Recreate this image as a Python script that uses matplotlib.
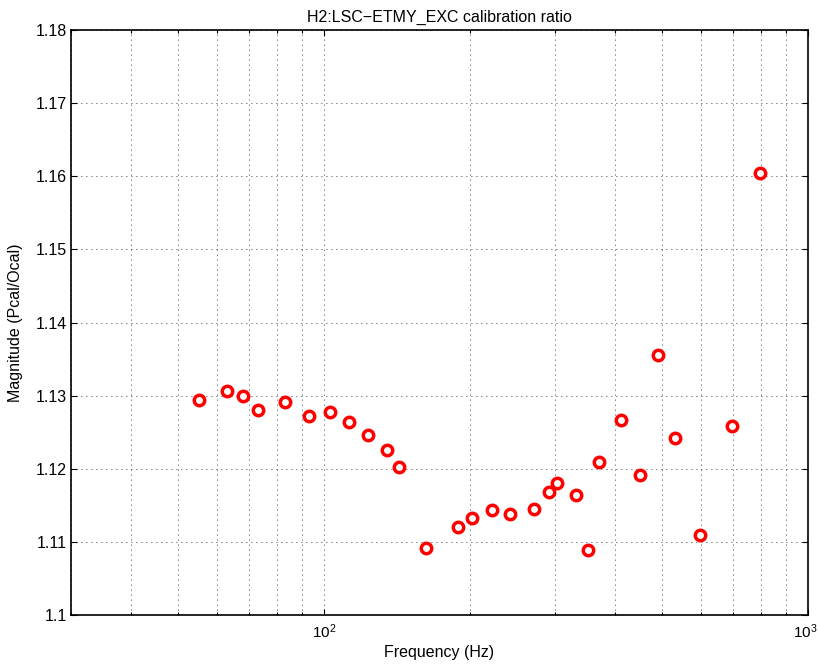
import matplotlib
matplotlib.use("Agg")
import matplotlib.pyplot as plt
import matplotlib.transforms as mtransforms
from matplotlib.ticker import LogLocator, NullFormatter, FixedLocator

plt.rcParams['font.family'] = ['Liberation Sans', 'DejaVu Sans']
plt.rcParams['mathtext.fontset'] = 'custom'
plt.rcParams['mathtext.rm'] = 'Liberation Sans'

freq = [55.1, 63.1, 68.0, 73.0, 83.0, 93.0, 103.0, 112.8, 123.0, 134.7, 142.6,
        162.5, 188.7, 202.6, 222.3, 242.2, 271.9, 292.0, 302.3, 331.9, 351.3,
        370.7, 411.0, 450.4, 489.0, 530.0, 599.0, 698.0, 797.5]
ratio = [1.1294, 1.1306, 1.1299, 1.1281, 1.1291, 1.1272, 1.1278, 1.1264, 1.1246,
         1.1225, 1.1202, 1.1092, 1.1120, 1.1132, 1.1143, 1.1138, 1.1145, 1.1168,
         1.1180, 1.1164, 1.1089, 1.1209, 1.1267, 1.1192, 1.1356, 1.1242, 1.1109,
         1.1258, 1.1605]
yticks = [1.10, 1.11, 1.12, 1.13, 1.14, 1.15, 1.16, 1.17, 1.18]
ytick_labels = ['1.1', '1.11', '1.12', '1.13', '1.14', '1.15', '1.16', '1.17', '1.18']

fig = plt.figure(figsize=(8.19, 6.68), dpi=100)
ax = fig.add_axes([71/819, 1 - 615/668, (808 - 71)/819, (615 - 30)/668])

ax.plot(freq, ratio, linestyle='none', marker='o', markersize=7.5,
        markerfacecolor='white', markeredgecolor='red', markeredgewidth=2.5,
        zorder=3)

ax.set_xscale('log')
ax.set_xlim(30, 1000)
ax.set_ylim(1.10, 1.18)
ax.set_yticks(yticks)
ax.set_yticklabels(ytick_labels)
ax.xaxis.set_major_locator(FixedLocator([100, 1000]))
ax.xaxis.set_minor_locator(LogLocator(base=10, subs=range(2, 10), numticks=20))
ax.xaxis.set_minor_formatter(NullFormatter())

grid_style = dict(color='black', linestyle=(0, (1, 5)), linewidth=0.6)
ax.grid(True, which='major', axis='both', **grid_style)
ax.grid(True, which='minor', axis='x', **grid_style)

ax.tick_params(which='both', direction='in', top=True, right=True, labelsize=11.5,
               width=0.8, color='black')
ax.tick_params(which='major', length=4.5)
ax.tick_params(which='minor', length=2.5)
ax.tick_params(axis='y', pad=3)
ax.tick_params(axis='x', pad=5, labelsize=11)
for s in ax.spines.values():
    s.set_linewidth(1.2)

ax.set_xlabel('Frequency (Hz)', fontsize=11.5, labelpad=3)
ax.set_ylabel('Magnitude (Pcal/Ocal)', fontsize=11.5, labelpad=9)
ax.set_title('H2:LSC\u2212ETMY_EXC calibration ratio', fontsize=11.5, pad=6)

# nudge the rightmost tick label slightly inward so it stays inside the figure
fig.canvas.draw()
last = ax.get_xticklabels()[-1]
last.set_transform(last.get_transform() +
                   mtransforms.ScaledTranslation(-3/100, 0, fig.dpi_scale_trans))

fig.savefig('out.png', dpi=100)
